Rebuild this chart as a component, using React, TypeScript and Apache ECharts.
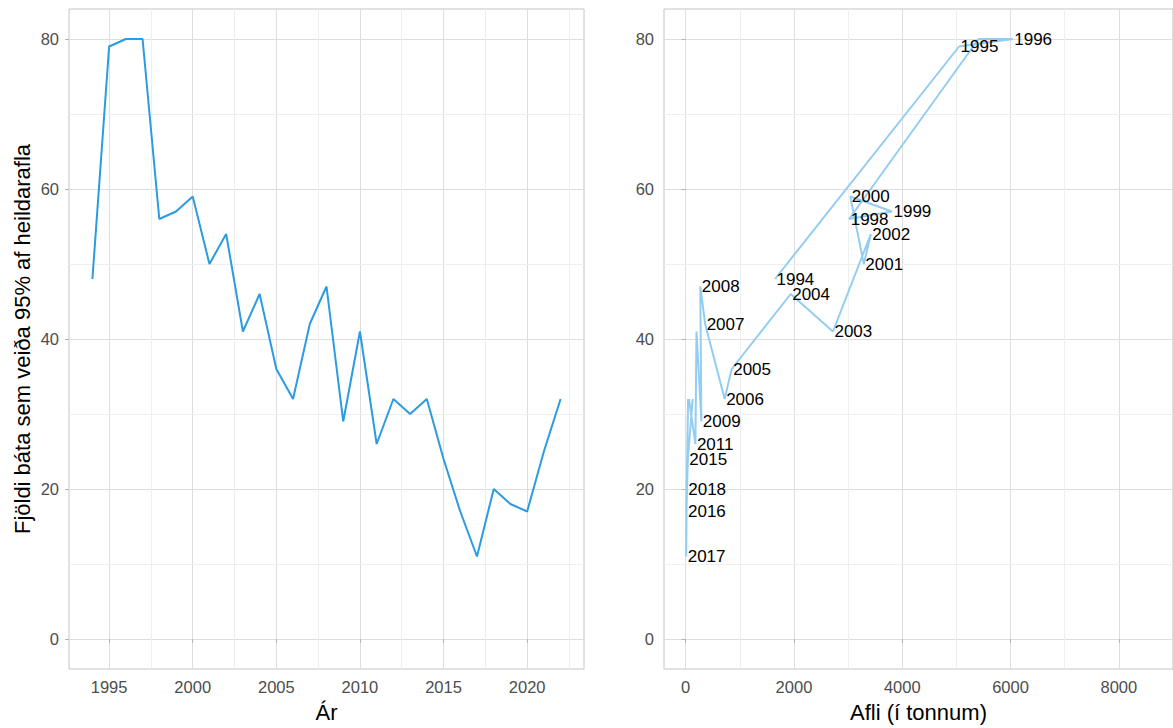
import React, { useEffect, useRef } from "react";
import * as echarts from "echarts";

const YEARS = [1994, 1995, 1996, 1997, 1998, 1999, 2000, 2001, 2002, 2003, 2004, 2005, 2006, 2007, 2008, 2009, 2010, 2011, 2012, 2013, 2014, 2015, 2016, 2017, 2018, 2019, 2020, 2021, 2022];
const BOATS = [48, 79, 80, 80, 56, 57, 59, 50, 54, 41, 46, 36, 32, 42, 47, 29, 41, 26, 32, 30, 32, 24, 17, 11, 20, 18, 17, 25, 32];
const CATCH = [1650, 5050, 6040, 5410, 3020, 3810, 3040, 3290, 3420, 2720, 1940, 850, 720, 360, 270, 290, 200, 180, 60, 100, 130, 40, 15, 10, 20, 15, 10, 30, 45];
const LABELED_YEARS = [1994, 1995, 1996, 1998, 1999, 2000, 2001, 2002, 2003, 2004, 2005, 2006, 2007, 2008, 2009, 2011, 2015, 2016, 2017, 2018];

const Y_TICKS = [0, 20, 40, 60, 80];
const Y_MINOR = [10, 30, 50, 70];
const YEAR_TICKS = [1995, 2000, 2005, 2010, 2015, 2020];
const YEAR_MINOR = [1997.5, 2002.5, 2007.5, 2012.5, 2017.5, 2022.5];
const CATCH_TICKS = [0, 2000, 4000, 6000, 8000];
const CATCH_MINOR = [1000, 3000, 5000, 7000];

const FONT = "Liberation Sans, Arial, Helvetica, sans-serif";
const GRID_MAJOR = "#dedede";
const GRID_MINOR = "#efefef";
const TICK_COLOR = "#4d4d4d";
const TICK_SIZE = 16.5;
const LABEL_SIZE = 17;
const TITLE_SIZE = 22;

export default function App() {
  const ref = useRef<HTMLDivElement>(null);
  useEffect(() => {
    if (!ref.current) return;
    const chart = echarts.init(ref.current, null, { renderer: "svg" });

    const axisCommon = (ticks: number[], margin: number) => ({
      type: "value",
      axisLine: { show: false },
      axisTick: { show: true, length: 4, lineStyle: { color: "#b3b3b3" }, customValues: ticks },
      axisLabel: {
        color: TICK_COLOR,
        fontSize: TICK_SIZE,
        fontFamily: FONT,
        customValues: ticks,
        margin,
        formatter: (v: number) => String(v),
      },
      splitLine: { show: true, lineStyle: { color: GRID_MAJOR, width: 1 } },
      nameTextStyle: { color: "#000", fontSize: TITLE_SIZE, fontFamily: FONT },
      nameLocation: "middle",
    });

    const minorLines = (xs: number[], ys: number[]) => [
      ...xs.map((v) => ({ xAxis: v })),
      ...ys.map((v) => ({ yAxis: v })),
    ];

    const minorSeries = (idx: number, xs: number[]) => ({
      type: "line",
      xAxisIndex: idx,
      yAxisIndex: idx,
      data: [],
      z: 0,
      silent: true,
      markLine: {
        z: 0,
        silent: true,
        animation: false,
        symbol: ["none", "none"],
        label: { show: false },
        lineStyle: { color: GRID_MINOR, width: 1, type: "solid" },
        data: minorLines(xs, Y_MINOR),
      },
    });

    const option: any = {
      animation: false,
      backgroundColor: "#ffffff",
      textStyle: { fontFamily: FONT },
      grid: [
        { left: 69, right: 589, top: 9, bottom: 55, show: true, borderColor: "#c4c4c4", borderWidth: 1, backgroundColor: "transparent" },
        { left: 664, right: -10, top: 9, bottom: 55, show: true, borderColor: "#c4c4c4", borderWidth: 1, backgroundColor: "transparent" },
      ],
      xAxis: [
        {
          ...axisCommon(YEAR_TICKS, 9),
          gridIndex: 0,
          min: 1992.6,
          max: 2023.4,
          name: "Ár",
          nameGap: 32,
        },
        {
          ...axisCommon(CATCH_TICKS, 9),
          gridIndex: 1,
          min: -400,
          max: 9000,
          name: "Afli (í tonnum)",
          nameGap: 32,
        },
      ],
      yAxis: [
        {
          ...axisCommon(Y_TICKS, 10),
          gridIndex: 0,
          min: -4,
          max: 84,
          name: "Fjöldi báta sem veiða 95% af heildarafla",
          nameGap: 36,
        },
        {
          ...axisCommon(Y_TICKS, 10),
          gridIndex: 1,
          min: -4,
          max: 84,
        },
      ],
      series: [
        minorSeries(0, YEAR_MINOR),
        minorSeries(1, CATCH_MINOR),
        {
          type: "line",
          xAxisIndex: 0,
          yAxisIndex: 0,
          z: 10,
          showSymbol: false,
          symbol: "none",
          lineStyle: { color: "#2b9be2", width: 2 },
          data: YEARS.map((y, i) => [y, BOATS[i]]),
        },
        {
          type: "line",
          xAxisIndex: 1,
          yAxisIndex: 1,
          z: 10,
          symbol: "circle",
          symbolSize: 1,
          showSymbol: true,
          lineStyle: { color: "#93cdf1", width: 2 },
          itemStyle: { color: "rgba(0,0,0,0)" },
          labelLayout: { hideOverlap: false },
          data: YEARS.map((y, i) => ({
            value: [CATCH[i], BOATS[i]],
            name: String(y),
            label: {
              show: LABELED_YEARS.includes(y),
              position: "right",
              distance: 1,
              offset: [0, 1.5],
              formatter: String(y),
              color: "#000",
              fontSize: LABEL_SIZE,
              fontFamily: FONT,
            },
          })),
        },
      ],
    };
    chart.setOption(option);
    return () => chart.dispose();
  }, []);

  return (
    <div style={{ position: "fixed", left: 0, top: 0, width: 1173, height: 728, overflow: "hidden", background: "#fff" }}>
      <div ref={ref} style={{ width: 1173, height: 728 }} />
    </div>
  );
}
